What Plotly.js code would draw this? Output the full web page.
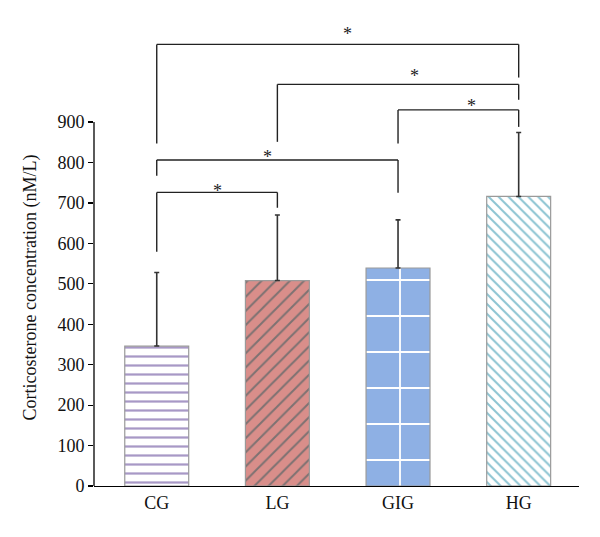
<!DOCTYPE html>
<html>
<head>
<meta charset="utf-8">
<script src="https://cdn.plot.ly/plotly-3.0.1.min.js"></script>
<style>html,body{margin:0;padding:0;background:#fff;}#chart{width:600px;height:537px;}</style>
</head>
<body>
<div id="chart"></div>
<script>
// Data
const groups = ["CG", "LG", "GIG", "HG"];
const means = [346, 508, 539, 716];
const sdUpper = [182, 162, 119, 158];
const yTicks = [0, 100, 200, 300, 400, 500, 600, 700, 800, 900];
// Significance brackets: [left group index, right group index]
const bracketPairs = [[0, 1], [0, 2], [2, 3], [1, 3], [0, 3]];
const bracketTop = [726, 806, 930, 993, 1092];
const bracketLeftEnd = [579, 767, 847, 851, 847];
const bracketRightEnd = [688, 725, 888, 955, 1010];
const starX = [0.5, 0.92, 2.61, 2.14, 1.58];
const starY = [742, 827, 953, 1026, 1130];
const starLabels = ["*", "*", "*", "*", "*"];

const serif = "Liberation Serif, Times New Roman, serif";

const trace = {
  type: "bar",
  x: groups,
  y: means,
  width: 0.53,
  marker: {
    color: "#ffffff",
    line: {color: "#9a9a9a", width: 1.2},
    pattern: {
      shape: ["-", "/", "+", "\\"],
      bgcolor: ["#ffffff", "#d98e8a", "#8eb0e4", "#ffffff"],
      fgcolor: ["#a898c6", "#7d7272", "#ffffff", "#8cc4d2"],
      size: [9, 10, 36, 7],
      solidity: [0.25, 0.2, 0.1, 0.28],
      fillmode: "replace"
    }
  },
  error_y: {
    type: "data",
    symmetric: false,
    array: sdUpper,
    arrayminus: [0, 0, 0, 0],
    color: "#333333",
    thickness: 1.6,
    width: 2.5
  },
  hoverinfo: "none"
};

const shapes = [];
// y-axis line from 0 to 900 only
shapes.push({type: "line", xref: "paper", yref: "y", x0: 0, x1: 0, y0: 0, y1: yTicks[yTicks.length - 1],
  line: {color: "#000", width: 1.3}});
bracketPairs.forEach((p, i) => {
  const style = {color: "#222", width: 1.4};
  shapes.push({type: "line", xref: "x", yref: "y", x0: p[0], x1: p[0], y0: bracketLeftEnd[i], y1: bracketTop[i], line: style});
  shapes.push({type: "line", xref: "x", yref: "y", x0: p[0], x1: p[1], y0: bracketTop[i], y1: bracketTop[i], line: style});
  shapes.push({type: "line", xref: "x", yref: "y", x0: p[1], x1: p[1], y0: bracketRightEnd[i], y1: bracketTop[i], line: style});
});

const annotations = starLabels.map((s, i) => ({
  x: starX[i], y: starY[i], xref: "x", yref: "y", text: s, showarrow: false,
  font: {family: serif, size: 18, color: "#222"}, yanchor: "middle", yshift: -5
}));
annotations.push({
  xref: "paper", yref: "y", x: -0.131, y: 492, xanchor: "center", yanchor: "middle",
  text: "Corticosterone concentration (nM/L)", textangle: -90, showarrow: false,
  font: {family: serif, size: 18, color: "#111"}
});

const layout = {
  width: 600, height: 537,
  margin: {l: 94, r: 21, t: 10, b: 51},
  paper_bgcolor: "#fff", plot_bgcolor: "#fff",
  showlegend: false,
  font: {family: serif, size: 18, color: "#111"},
  xaxis: {
    type: "category",
    range: [-0.52, 3.5],
    showline: true, linecolor: "#000", linewidth: 1.3,
    ticks: "", showgrid: false, zeroline: false,
    tickfont: {family: serif, size: 18, color: "#111"}
  },
  yaxis: {
    range: [0, 1177],
    tickvals: yTicks,
    ticktext: yTicks.map(String),
    ticks: "outside", ticklen: 5, tickwidth: 1.2, tickcolor: "#000",
    showline: false, showgrid: false, zeroline: false,
    tickfont: {family: serif, size: 18, color: "#111"}
  },
  shapes: shapes,
  annotations: annotations
};

Plotly.newPlot("chart", [trace], layout, {staticPlot: true, displayModeBar: false});
</script>
</body>
</html>
